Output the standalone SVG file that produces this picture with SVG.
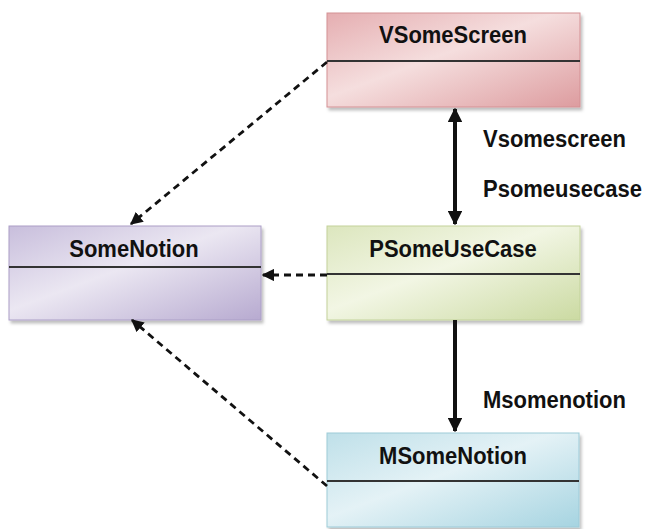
<svg xmlns="http://www.w3.org/2000/svg" width="647" height="529" viewBox="0 0 647 529">
  <defs>
    <linearGradient id="gV" x1="0" y1="0" x2="1" y2="1">
      <stop offset="0" stop-color="#e5aeb1"/>
      <stop offset="0.45" stop-color="#f5dede"/>
      <stop offset="1" stop-color="#dd9c9f"/>
    </linearGradient>
    <linearGradient id="gP" x1="0" y1="0" x2="1" y2="1">
      <stop offset="0" stop-color="#dce6be"/>
      <stop offset="0.45" stop-color="#f2f6e4"/>
      <stop offset="1" stop-color="#cbdaa2"/>
    </linearGradient>
    <linearGradient id="gS" x1="0" y1="0" x2="1" y2="1">
      <stop offset="0" stop-color="#c8bedc"/>
      <stop offset="0.45" stop-color="#ebe7f2"/>
      <stop offset="1" stop-color="#b7aad0"/>
    </linearGradient>
    <linearGradient id="gM" x1="0" y1="0" x2="1" y2="1">
      <stop offset="0" stop-color="#bfe0e9"/>
      <stop offset="0.45" stop-color="#e4f2f6"/>
      <stop offset="1" stop-color="#a6d4e1"/>
    </linearGradient>
    <filter id="shadow" x="-10%" y="-10%" width="125%" height="130%">
      <feDropShadow dx="2" dy="3" stdDeviation="1.5" flood-color="#000" flood-opacity="0.25"/>
    </filter>
    <marker id="solidHead" viewBox="0 0 10 10" refX="9" refY="5" markerWidth="3.6" markerHeight="3.6" orient="auto-start-reverse" markerUnits="strokeWidth">
      <path d="M0,0 L10,5 L0,10 Z" fill="#111"/>
    </marker>
    <marker id="dashHead" viewBox="0 0 10 10" refX="9" refY="5" markerWidth="4.5" markerHeight="4.5" orient="auto" markerUnits="strokeWidth">
      <path d="M0,0 L10,5 L0,10 Z" fill="#111"/>
    </marker>
  </defs>
  <style>
    .box { filter: url(#shadow); stroke-width: 1; }
    .div { stroke: #333; stroke-width: 2; }
    .title { font-family: "Liberation Sans", Arial, sans-serif; font-weight: bold; font-size: 22px; fill: #111; text-anchor: middle; }
    .lbl { font-family: "Liberation Sans", Arial, sans-serif; font-weight: bold; font-size: 22px; fill: #111; }
    .solid { stroke: #111; stroke-width: 4; fill: none; }
    .dash { stroke: #111; stroke-width: 2.8; fill: none; stroke-dasharray: 7 5; }
  </style>

  <g id="VSomeScreen">
    <rect class="box" x="327" y="13" width="253" height="94" fill="url(#gV)" stroke="#d49194"/>
    <line class="div" x1="327" y1="61" x2="580" y2="61"/>
    <text class="title" transform="matrix(1 0 0 1.12 453 43)">VSomeScreen</text>
  </g>

  <g id="SomeNotion">
    <rect class="box" x="9" y="226" width="252" height="94" fill="url(#gS)" stroke="#ab9ec6"/>
    <line class="div" x1="9" y1="267" x2="261" y2="267"/>
    <text class="title" transform="matrix(1 0 0 1.12 134 257)">SomeNotion</text>
  </g>

  <g id="PSomeUseCase">
    <rect class="box" x="327" y="226" width="253" height="94" fill="url(#gP)" stroke="#c3d29a"/>
    <line class="div" x1="327" y1="274" x2="580" y2="274"/>
    <text class="title" transform="matrix(1 0 0 1.12 453 257)">PSomeUseCase</text>
  </g>

  <g id="MSomeNotion">
    <rect class="box" x="327" y="433" width="252" height="94" fill="url(#gM)" stroke="#9dcbd8"/>
    <line class="div" x1="327" y1="481" x2="579" y2="481"/>
    <text class="title" transform="matrix(1 0 0 1.12 453 464)">MSomeNotion</text>
  </g>

  <g id="connectors">
    <line class="solid" x1="455" y1="109" x2="455" y2="224" marker-start="url(#solidHead)" marker-end="url(#solidHead)"/>
    <line class="solid" x1="455" y1="320" x2="455" y2="431" marker-end="url(#solidHead)"/>
    <line class="dash" x1="327" y1="62" x2="131" y2="224" marker-end="url(#dashHead)"/>
    <line class="dash" x1="327" y1="275" x2="263" y2="275" marker-end="url(#dashHead)"/>
    <line class="dash" x1="327" y1="486" x2="132" y2="320" marker-end="url(#dashHead)"/>
    <text class="lbl" transform="matrix(1 0 0 1.12 483 147)">Vsomescreen</text>
    <text class="lbl" transform="matrix(1 0 0 1.12 483 197)">Psomeusecase</text>
    <text class="lbl" transform="matrix(1 0 0 1.12 483 408)">Msomenotion</text>
  </g>
</svg>
